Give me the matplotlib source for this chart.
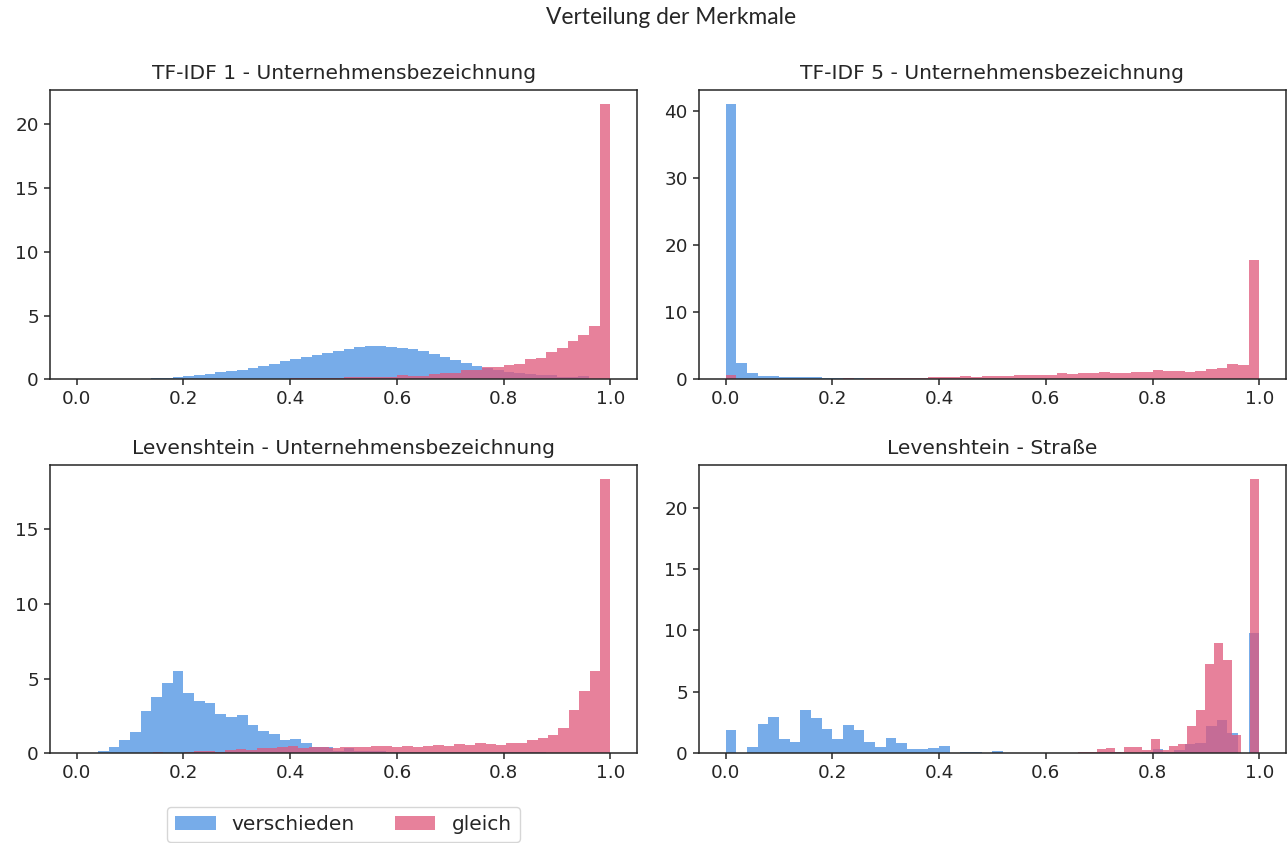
import numpy as np
import matplotlib.pyplot as plt

# Titel und Legende
titel = ["TF-IDF 1 - Unternehmensbezeichnung", "TF-IDF 5 - Unternehmensbezeichnung",
         "Levenshtein - Unternehmensbezeichnung", "Levenshtein - Straße"]
labels = ["verschieden", "gleich"]
farben = ["#4a90e2", "#e0577a"]

# Wertebereich (min, max) je Histogramm, jeweils 50 Bins
bereich_versch = [(0.0, 1.0), (0.0, 1.0), (0.0, 1.0), (0.0, 1.0)]
bereich_gleich = [(0.0, 1.0), (0.0, 1.0), (0.025, 1.0), (0.153, 1.0)]

# Dichten (density=True)
versch_tfidf1 = [0, 0, 0, 0, 0, 0, 0, 0.08, 0.10, 0.18,
                 0.26, 0.31, 0.39, 0.55, 0.63, 0.71, 0.87, 1.02, 1.18, 1.42,
                 1.57, 1.73, 1.89, 2.04, 2.20, 2.36, 2.52, 2.60, 2.60, 2.52,
                 2.44, 2.36, 2.20, 1.97, 1.73, 1.49, 1.26, 1.02, 0.87, 0.71,
                 0.55, 0.47, 0.39, 0.31, 0.31, 0.16, 0.16, 0.24, 0.03, 0.02]
gleich_tfidf1 = [0, 0, 0, 0, 0, 0, 0, 0, 0, 0,
                 0, 0, 0, 0, 0, 0, 0, 0, 0, 0,
                 0.08, 0.08, 0.08, 0.08, 0.08, 0.16, 0.16, 0.16, 0.16, 0.16,
                 0.31, 0.24, 0.24, 0.39, 0.47, 0.47, 0.71, 0.71, 0.94, 0.94,
                 1.10, 1.18, 1.57, 1.65, 2.12, 2.44, 2.99, 3.46, 4.17, 21.6]

versch_tfidf5 = [41.1, 2.4, 0.9, 0.5, 0.5, 0.3, 0.3, 0.3, 0.3, 0.15,
                 0.15, 0.15, 0.15, 0.08, 0.08, 0.08, 0.05, 0.05, 0.05, 0.05,
                 0.05, 0.05, 0.05, 0.05, 0.05, 0.05, 0.05, 0.05, 0.05, 0.05,
                 0.02, 0.02, 0.02, 0.02, 0.02, 0.02, 0.02, 0.02, 0.02, 0.02,
                 0.02, 0.02, 0.02, 0.02, 0.02, 0.02, 0.02, 0.02, 0.02, 0.02]
gleich_tfidf5 = [0.6, 0, 0, 0, 0, 0, 0, 0, 0, 0,
                 0, 0.15, 0.1, 0.15, 0.15, 0.15, 0.15, 0.15, 0.15, 0.3,
                 0.3, 0.3, 0.5, 0.3, 0.5, 0.5, 0.5, 0.6, 0.6, 0.6,
                 0.6, 0.9, 0.75, 0.9, 0.9, 1.05, 0.9, 0.9, 1.05, 1.05,
                 1.35, 1.2, 1.2, 1.05, 1.2, 1.5, 1.65, 2.25, 2.1, 17.8]

versch_lev_name = [0.03, 0.03, 0.16, 0.42, 0.89, 1.43, 2.83, 3.77, 4.70, 5.50,
                   4.03, 3.50, 3.37, 2.63, 2.43, 2.56, 1.89, 1.49, 1.29, 0.89,
                   0.96, 0.69, 0.42, 0.42, 0.16, 0.36, 0.16, 0.16, 0.16, 0.06,
                   0.06, 0.06, 0.06, 0.06, 0.06, 0.06, 0.06, 0.06, 0.06, 0.06,
                   0.06, 0.06, 0.06, 0.06, 0.03, 0.03, 0.03, 0.03, 0.03, 0.03]
gleich_lev_name = [0, 0, 0, 0, 0, 0.03, 0.09, 0.03, 0.03, 0.09,
                   0.16, 0.16, 0.09, 0.22, 0.29, 0.22, 0.36, 0.36, 0.42, 0.49,
                   0.36, 0.42, 0.42, 0.36, 0.42, 0.42, 0.42, 0.49, 0.49, 0.42,
                   0.49, 0.42, 0.49, 0.56, 0.49, 0.62, 0.56, 0.69, 0.62, 0.56,
                   0.69, 0.69, 0.89, 1.03, 1.23, 1.69, 2.90, 4.17, 5.50, 18.4]

versch_lev_str = [1.92, 0, 0.54, 2.40, 2.97, 1.19, 0.95, 3.54, 2.89, 2.00,
                  1.19, 2.32, 1.92, 0.95, 0.54, 1.27, 0.86, 0.38, 0.38, 0.46,
                  0.62, 0.05, 0.13, 0.13, 0.03, 0.22, 0.05, 0.05, 0.03, 0.03,
                  0.05, 0.03, 0.03, 0.03, 0.03, 0.13, 0.13, 0.03, 0.05, 0.08,
                  0.38, 0.10, 0.30, 0.78, 0.86, 2.24, 2.73, 1.68, 0, 9.78]
gleich_lev_str = [0, 0, 0, 0, 0, 0, 0, 0, 0, 0,
                  0.03, 0, 0, 0, 0.03, 0, 0, 0, 0, 0,
                  0, 0, 0, 0, 0, 0, 0, 0, 0, 0,
                  0.13, 0.13, 0.38, 0.46, 0.10, 0.54, 0.54, 0.30, 1.19, 0.30,
                  0.62, 0.78, 2.24, 3.54, 7.27, 8.97, 7.60, 1.51, 0, 22.35]

versch = [versch_tfidf1, versch_tfidf5, versch_lev_name, versch_lev_str]
gleich = [gleich_tfidf1, gleich_tfidf5, gleich_lev_name, gleich_lev_str]

plt.rcParams['font.family'] = 'DejaVu Sans'
plt.rcParams['font.size'] = 13.2
plt.rcParams['axes.linewidth'] = 1.1
plt.rcParams['xtick.major.width'] = 1.1
plt.rcParams['ytick.major.width'] = 1.1
plt.rcParams['xtick.major.size'] = 4.5
plt.rcParams['ytick.major.size'] = 4.5
plt.rcParams['text.color'] = '#262626'
plt.rcParams['xtick.color'] = '#262626'
plt.rcParams['ytick.color'] = '#262626'
plt.rcParams['axes.edgecolor'] = '#262626'

fig = plt.figure(figsize=(12.87, 8.43), dpi=100)

# Achsenpositionen [links, unten, breite, hoehe]
pos = [[0.0389, 0.5501, 0.4561, 0.3431],
       [0.5431, 0.5501, 0.4561, 0.3431],
       [0.0389, 0.1064, 0.4561, 0.3420],
       [0.5431, 0.1064, 0.4561, 0.3420]]

def zeichne(ax, werte, bereich, farbe, label):
    kanten = np.linspace(bereich[0], bereich[1], len(werte) + 1)
    mitte = (kanten[:-1] + kanten[1:]) / 2
    return ax.hist(mitte, bins=kanten, weights=werte, color=farbe,
                   alpha=0.75, label=label)

axes = []
for i in range(4):
    ax = fig.add_axes(pos[i])
    zeichne(ax, versch[i], bereich_versch[i], farben[0], labels[0])
    zeichne(ax, gleich[i], bereich_gleich[i], farben[1], labels[1])
    ax.set_xlim(-0.05, 1.05)
    ax.set_title(titel[i], fontsize=14.6, pad=8)
    axes.append(ax)

fig.text(671 / 1287, 1 - 17 / 843, "Verteilung der Merkmale", ha='center',
         va='center', fontsize=16.4, family='Lato')

handles, lbls = axes[0].get_legend_handles_labels()
fig.legend(handles, lbls, loc='upper center', ncol=2, fontsize=14.5,
           bbox_to_anchor=(343.5 / 1287, 1 - 797 / 843), frameon=True)

fig.savefig("out.png", dpi=100)
